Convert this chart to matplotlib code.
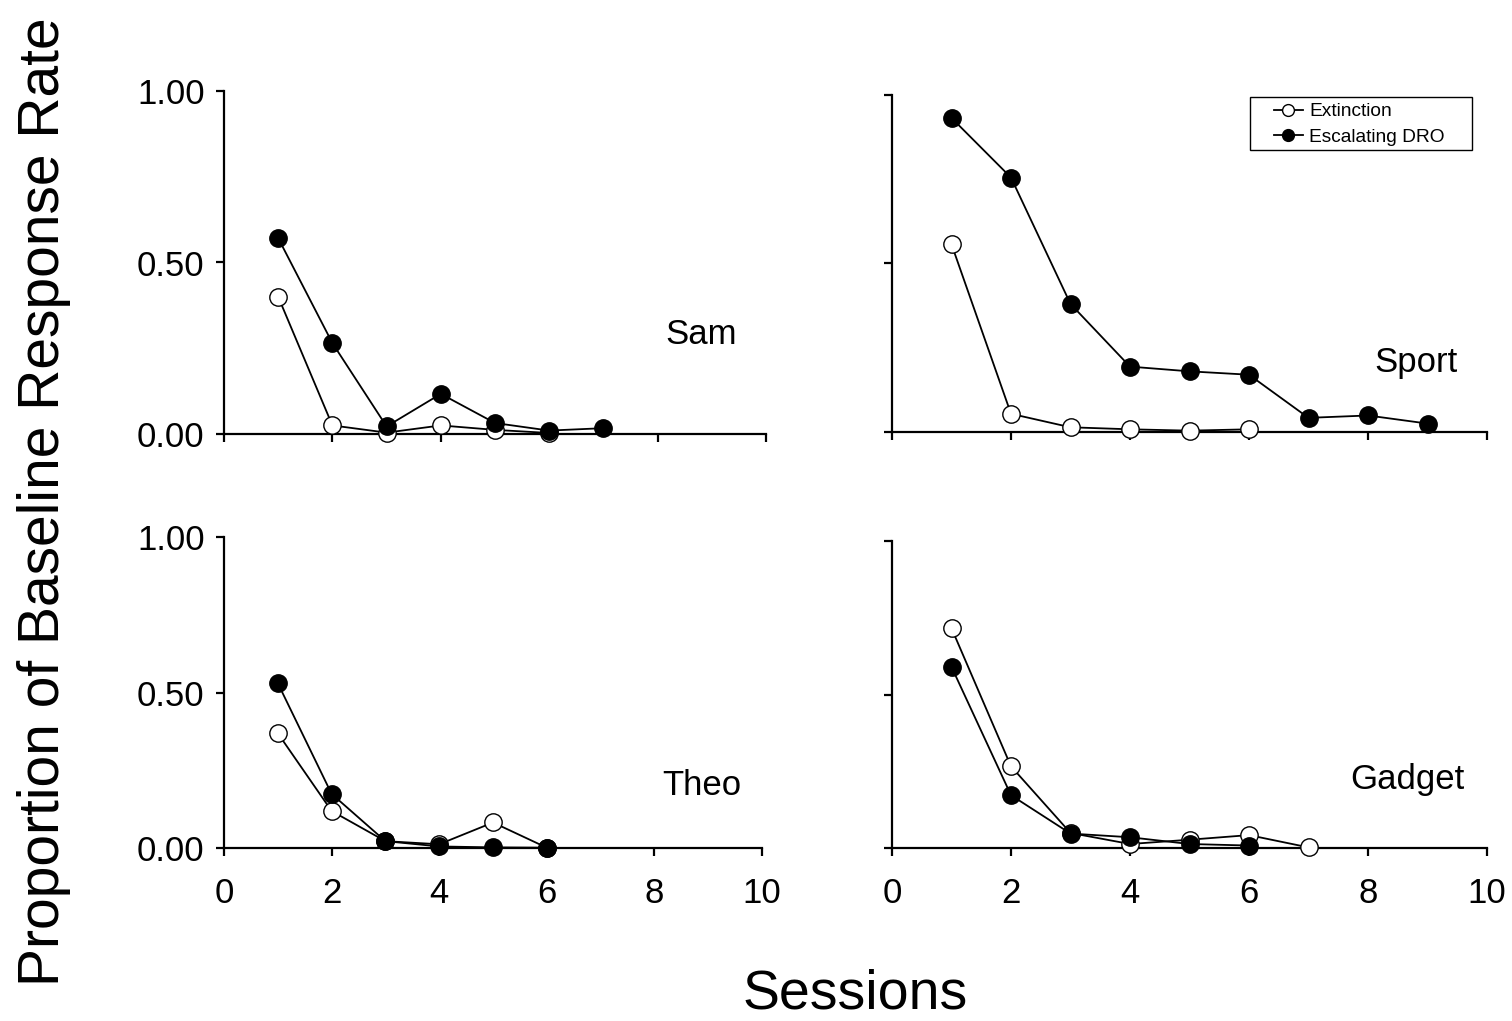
import matplotlib
matplotlib.use("Agg")
import matplotlib.pyplot as plt
from matplotlib.patches import Rectangle

plt.rcParams['font.family'] = ['Liberation Sans', 'DejaVu Sans']

# Sessions and proportion of baseline response rate per subject
sam_ext_x = [1, 2, 3, 4, 5, 6]
sam_ext = [0.40, 0.025, 0.004, 0.025, 0.012, 0.003]
sam_dro_x = [1, 2, 3, 4, 5, 6, 7]
sam_dro = [0.571, 0.265, 0.022, 0.117, 0.032, 0.010, 0.017]

sport_ext_x = [1, 2, 3, 4, 5, 6]
sport_ext = [0.557, 0.054, 0.014, 0.008, 0.004, 0.008]
sport_dro_x = [1, 2, 3, 4, 5, 6, 7, 8, 9]
sport_dro = [0.932, 0.755, 0.380, 0.194, 0.180, 0.170, 0.042, 0.049, 0.025]

theo_ext_x = [1, 2, 3, 4, 5, 6]
theo_ext = [0.369, 0.119, 0.022, 0.012, 0.082, 0.001]
theo_dro_x = [1, 2, 3, 4, 5, 6]
theo_dro = [0.530, 0.174, 0.022, 0.005, 0.002, 0.001]

gadget_ext_x = [1, 2, 3, 4, 5, 6, 7]
gadget_ext = [0.716, 0.266, 0.049, 0.013, 0.027, 0.042, 0.002]
gadget_dro_x = [1, 2, 3, 4, 5, 6]
gadget_dro = [0.590, 0.172, 0.047, 0.035, 0.013, 0.008]

subjects = ["Sam", "Sport", "Theo", "Gadget"]
x_ticks = [0, 2, 4, 6, 8, 10]
y_ticks = [0.0, 0.5, 1.0]
y_ticklabels = ["0.00", "0.50", "1.00"]

W, H = 1512, 1021
fig = plt.figure(figsize=(W / 100, H / 100), dpi=100)

def frac(left, right, top, bottom):
    return [left / W, 1 - bottom / H, (right - left) / W, (bottom - top) / H]

panels = [
    (frac(224, 766, 91, 434), sam_ext_x, sam_ext, sam_dro_x, sam_dro, (8.8, 0.29), True, False),
    (frac(892, 1487, 95, 432), sport_ext_x, sport_ext, sport_dro_x, sport_dro, (8.81, 0.205), False, False),
    (frac(224, 762, 537, 848), theo_ext_x, theo_ext, theo_dro_x, theo_dro, (8.88, 0.20), True, True),
    (frac(892, 1487, 541, 848), gadget_ext_x, gadget_ext, gadget_dro_x, gadget_dro, (8.67, 0.222), False, True),
]

line_kw = dict(color="black", linewidth=1.3, markersize=12.5, markeredgewidth=1.0,
               markeredgecolor="black", clip_on=False)

axes = []
for (rect, ex, ey, dx, dy, lab_xy, show_y, show_x), name in zip(panels, subjects):
    ax = fig.add_axes(rect)
    axes.append(ax)
    ax.plot(ex, ey, marker="o", markerfacecolor="white", label="Extinction", zorder=3, **line_kw)
    ax.plot(dx, dy, marker="o", markerfacecolor="black", label="Escalating DRO", zorder=4, **line_kw)
    ax.set_xlim(0, 10)
    ax.set_ylim(0, 1)
    ax.set_xticks(x_ticks)
    ax.set_yticks(y_ticks)
    ax.spines["top"].set_visible(False)
    ax.spines["right"].set_visible(False)
    for s in ("left", "bottom"):
        ax.spines[s].set_linewidth(1.6)
    ax.tick_params(axis="both", direction="out", length=6, width=1.6, labelsize=25)
    ax.tick_params(axis="x", pad=15)
    ax.tick_params(axis="y", pad=8)
    if show_y:
        ax.set_yticklabels(y_ticklabels)
    else:
        ax.set_yticklabels([])
    if not show_x:
        ax.set_xticklabels([])
    ax.text(lab_xy[0], lab_xy[1], name, fontsize=25, ha="center", va="center")

# Legend entries without their own frame, boxed by a plain rectangle
handles, labels = axes[1].get_legend_handles_labels()
leg = fig.legend(handles, labels, loc="upper left", bbox_to_anchor=(1274 / W, 1 - 103 / H),
                 fontsize=13.8, frameon=False, markerscale=0.68, handlelength=1.5,
                 handletextpad=0.32, borderpad=0, labelspacing=0.4, borderaxespad=0)
fig.patches.append(Rectangle((1250 / W, 1 - 150 / H), 222 / W, 53 / H, transform=fig.transFigure,
                             fill=False, edgecolor="black", linewidth=1.0))

fig.text(855 / W, 1 - 994 / H, "Sessions", fontsize=40, ha="center", va="center")
fig.text(44 / W, 1 - 502 / H, "Proportion of Baseline Response Rate", fontsize=41,
         ha="center", va="center", rotation=90)

fig.savefig("out.png", dpi=100, facecolor="white")
